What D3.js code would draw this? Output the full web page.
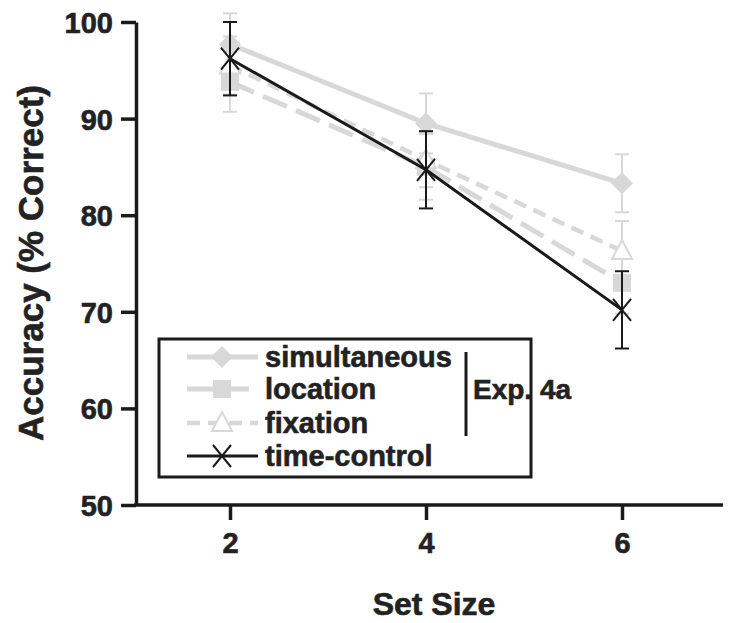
<!DOCTYPE html>
<html><head><meta charset="utf-8">
<script src="https://cdn.jsdelivr.net/npm/d3@7"></script>
<style>body{margin:0;background:#fff}svg{display:block}text{font-family:"Liberation Sans",Arial,sans-serif;font-weight:bold;fill:#222;stroke:#222;stroke-width:0.6px}</style>
</head><body>
<script>
const setSizes = [2, 4, 6];
const yTicks = [50, 60, 70, 80, 90, 100];
const xTicks = [2, 4, 6];
const seriesNames = ["simultaneous", "location", "fixation", "time-control"];
const simultaneous = [97.7, 89.5, 83.3];
const simultaneousErr = [3.2, 3.1, 3.0];
const location_ = [93.8, 85.0, 73.0];
const locationErr = [3.1, 3.4, 3.2];
const fixation = [95.5, 85.7, 76.3];
const fixationErr = [3.0, 2.8, 3.1];
const timeControl = [96.2, 84.7, 70.2];
const timeControlErr = [3.8, 4.0, 4.0];
const groupLabel = "Exp. 4a";

const W = 729, H = 623;
const svg = d3.select("body").append("svg").attr("width", W).attr("height", H);
const x = d3.scaleLinear().domain([2, 6]).range([230, 622]);
const y = d3.scaleLinear().domain([50, 100]).range([505, 22]);
const axisLeftX = 136, axisRightX = 723;

const gray = "#d8d8d8";
const series = [
  {name: seriesNames[0], v: simultaneous, e: simultaneousErr, color: gray, w: 5, dash: null, marker: "diamond"},
  {name: seriesNames[1], v: location_, e: locationErr, color: gray, w: 5, dash: "26,10", marker: "square"},
  {name: seriesNames[2], v: fixation, e: fixationErr, color: gray, w: 4.5, dash: "13,8", marker: "triangle"},
  {name: seriesNames[3], v: timeControl, e: timeControlErr, color: "#1a1a1a", w: 3, dash: null, marker: "x"}
];

function drawMarker(g, type, cx, cy, color) {
  if (type === "diamond") {
    g.append("path").attr("d", `M${cx},${cy-11}L${cx+11},${cy}L${cx},${cy+11}L${cx-11},${cy}Z`).attr("fill", color);
  } else if (type === "square") {
    g.append("rect").attr("x", cx-9).attr("y", cy-9).attr("width", 18).attr("height", 18).attr("fill", color);
  } else if (type === "triangle") {
    g.append("path").attr("d", `M${cx},${cy-11}L${cx+10},${cy+8}L${cx-10},${cy+8}Z`).attr("fill", "#fff").attr("stroke", color).attr("stroke-width", 2);
  } else if (type === "x") {
    g.append("path").attr("d", `M${cx-9},${cy-11}L${cx+9},${cy+11}M${cx-9},${cy+11}L${cx+9},${cy-11}`).attr("stroke", color).attr("stroke-width", 2);
  }
}

const plot = svg.append("g");
const line = d3.line().x((d, i) => x(setSizes[i])).y(d => y(d));
series.forEach(s => {
  const g = plot.append("g");
  s.v.forEach((v, i) => {
    const cx = x(setSizes[i]);
    g.append("line").attr("x1", cx).attr("x2", cx).attr("y1", y(v + s.e[i])).attr("y2", y(v - s.e[i]))
      .attr("stroke", s.color).attr("stroke-width", 2);
    [v + s.e[i], v - s.e[i]].forEach(t => g.append("line").attr("x1", cx-7).attr("x2", cx+7).attr("y1", y(t)).attr("y2", y(t))
      .attr("stroke", s.color).attr("stroke-width", 2));
  });
  g.append("path").datum(s.v).attr("d", line).attr("fill", "none").attr("stroke", s.color)
    .attr("stroke-width", s.w).attr("stroke-dasharray", s.dash);
  s.v.forEach((v, i) => drawMarker(g, s.marker, x(setSizes[i]), y(v), s.color));
});

// Axes
const yAxis = svg.append("g").attr("transform", `translate(${axisLeftX},0)`)
  .call(d3.axisLeft(y).tickValues(yTicks).tickSize(15).tickPadding(8).tickSizeOuter(0));
yAxis.select(".domain").attr("stroke", "#1a1a1a").attr("stroke-width", 3.5);
yAxis.selectAll(".tick line").attr("stroke", "#1a1a1a").attr("stroke-width", 3.5);
yAxis.selectAll(".tick text").style("font-size", "29px").attr("fill", "#222").attr("dy", "0.36em");

const xAxis = svg.append("g").attr("transform", `translate(0,505)`)
  .call(d3.axisBottom(x).tickValues(xTicks).tickFormat(d3.format("d")).tickSize(15).tickPadding(12).tickSizeOuter(0));
xAxis.select(".domain").attr("d", `M${axisLeftX-1.75},0H${axisRightX}`).attr("stroke", "#1a1a1a").attr("stroke-width", 3.5);
xAxis.selectAll(".tick line").attr("stroke", "#1a1a1a").attr("stroke-width", 3.5);
xAxis.selectAll(".tick text").style("font-size", "29px").attr("fill", "#222");

svg.append("text").attr("transform", "translate(43,263) rotate(-90)").attr("text-anchor", "middle")
  .style("font-size", "35px").text("Accuracy (% Correct)");
svg.append("text").attr("x", 434).attr("y", 615).attr("text-anchor", "middle")
  .style("font-size", "32px").text("Set Size");

// Legend
const lg = svg.append("g");
lg.append("rect").attr("x", 159).attr("y", 339).attr("width", 372).attr("height", 138)
  .attr("fill", "#fff").attr("stroke", "#1a1a1a").attr("stroke-width", 3);
const ly = [357, 389, 423, 456];
series.forEach((s, i) => {
  lg.append("line").attr("x1", 187).attr("x2", 258).attr("y1", ly[i]).attr("y2", ly[i])
    .attr("stroke", s.color).attr("stroke-width", s.w).attr("stroke-dasharray", s.dash);
  drawMarker(lg, s.marker, 222, ly[i], s.color);
  lg.append("text").attr("x", 265).attr("y", ly[i]).attr("dy", "0.36em").style("font-size", "29px").text(s.name);
});
lg.append("line").attr("x1", 466).attr("x2", 466).attr("y1", 352).attr("y2", 436).attr("stroke", "#1a1a1a").attr("stroke-width", 3);
lg.append("text").attr("x", 473).attr("y", 389).attr("dy", "0.36em").style("font-size", "28px").text(groupLabel);
</script>
</body></html>
